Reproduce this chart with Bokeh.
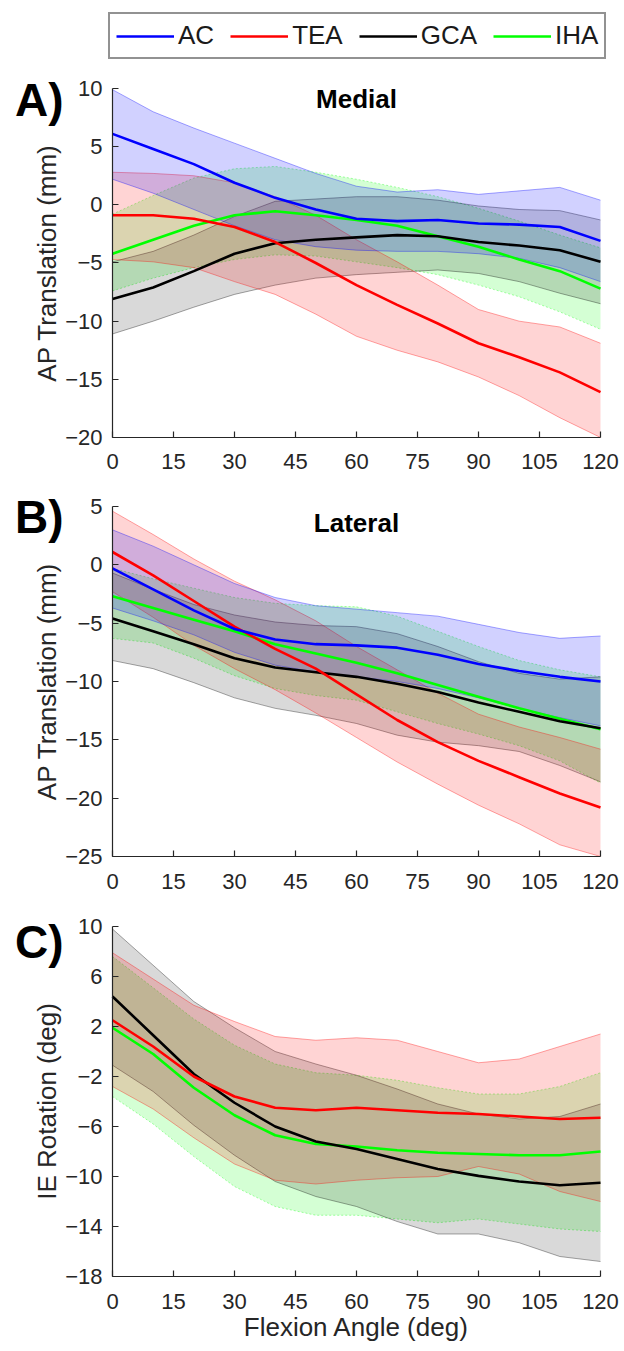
from bokeh.plotting import figure
from bokeh.models import Range1d, FixedTicker, Legend, LegendItem, Label, ColumnDataSource
from bokeh.layouts import column
from bokeh.embed import file_html
from bokeh.resources import INLINE

# ---------------- data ----------------
flexion = [0, 10, 20, 30, 40, 50, 60, 70, 80, 90, 100, 110, 120]
x_ticks = [0, 15, 30, 45, 60, 75, 90, 105, 120]

# Panel A - Medial AP translation (mm)
AC_A_mean = [6.1, 4.8, 3.5, 1.9, 0.6, -0.4, -1.2, -1.4, -1.3, -1.6, -1.7, -1.9, -3.1]
AC_A_up = [9.9, 8.0, 6.6, 5.3, 4.0, 2.7, 1.6, 1.1, 1.3, 0.9, 1.2, 1.5, 0.4]
AC_A_lo = [2.2, 1.0, -0.4, -1.8, -3.0, -3.6, -3.9, -4.0, -4.0, -4.2, -4.6, -5.4, -6.6]
TEA_A_mean = [-0.9, -0.9, -1.2, -1.9, -3.2, -5.0, -6.9, -8.6, -10.2, -11.9, -13.1, -14.4, -16.1]
TEA_A_up = [2.8, 2.7, 2.5, 1.9, 0.7, -0.9, -3.0, -4.9, -6.9, -9.0, -10.0, -10.5, -11.9]
TEA_A_lo = [-4.7, -4.9, -5.4, -6.6, -7.7, -9.4, -11.3, -12.5, -13.5, -14.8, -16.4, -18.3, -20.0]
GCA_A_mean = [-8.1, -7.1, -5.7, -4.2, -3.3, -3.0, -2.8, -2.6, -2.7, -3.2, -3.5, -3.9, -4.9]
GCA_A_up = [-4.9, -4.0, -2.6, -1.0, 0.3, 0.5, 0.7, 0.7, 0.4, -0.1, -0.4, -0.5, -1.3]
GCA_A_lo = [-11.1, -10.0, -8.8, -7.7, -6.9, -6.3, -6.0, -5.8, -5.6, -5.9, -6.6, -7.6, -8.5]
IHA_A_mean = [-4.2, -3.0, -1.8, -0.9, -0.55, -0.9, -1.3, -1.8, -2.7, -3.6, -4.7, -5.7, -7.2]
IHA_A_up = [-0.8, 0.8, 2.3, 3.1, 3.3, 2.8, 2.2, 1.5, 0.7, -0.3, -1.4, -2.6, -3.7]
IHA_A_lo = [-7.4, -6.3, -5.4, -4.7, -4.3, -4.4, -4.9, -5.4, -6.0, -6.9, -7.9, -9.2, -10.7]

# Panel B - Lateral AP translation (mm)
AC_B_mean = [-0.3, -2.1, -3.9, -5.5, -6.4, -6.8, -6.9, -7.1, -7.7, -8.5, -9.1, -9.6, -10.0]
AC_B_up = [3.0, 1.6, 0.0, -1.6, -2.8, -3.5, -3.8, -4.1, -4.4, -5.1, -5.8, -6.3, -6.1]
AC_B_lo = [-3.7, -4.8, -6.0, -7.5, -8.6, -9.2, -9.6, -10.0, -10.6, -11.4, -12.3, -13.1, -13.8]
TEA_B_mean = [1.1, -0.9, -3.1, -5.3, -7.2, -8.9, -11.1, -13.3, -15.2, -16.8, -18.2, -19.6, -20.8]
TEA_B_up = [4.6, 2.6, 0.5, -1.4, -3.0, -4.8, -7.0, -9.0, -11.0, -12.8, -13.9, -14.8, -15.8]
TEA_B_lo = [-2.3, -4.5, -6.9, -8.9, -10.7, -12.7, -14.8, -16.9, -18.8, -20.6, -22.2, -24.0, -25.0]
GCA_B_mean = [-4.6, -5.7, -6.8, -8.0, -8.8, -9.2, -9.6, -10.2, -10.9, -11.8, -12.6, -13.4, -14.0]
GCA_B_up = [-0.7, -2.1, -3.4, -4.3, -4.9, -5.2, -5.3, -5.9, -7.0, -8.3, -9.3, -9.8, -9.6]
GCA_B_lo = [-8.2, -8.9, -10.1, -11.4, -12.3, -12.9, -13.6, -14.6, -15.2, -15.5, -16.0, -17.2, -18.6]
IHA_B_mean = [-2.7, -3.7, -4.7, -5.7, -6.8, -7.6, -8.4, -9.3, -10.3, -11.3, -12.3, -13.2, -14.1]
IHA_B_up = [-0.3, -1.2, -2.0, -2.8, -3.3, -3.5, -3.6, -4.4, -5.7, -7.0, -8.2, -9.0, -9.6]
IHA_B_lo = [-6.3, -6.7, -8.0, -9.5, -10.6, -11.2, -11.6, -12.6, -13.6, -14.5, -15.5, -16.8, -18.7]

# Panel C - IE rotation (deg)
TEA_C_mean = [2.5, 0.4, -2.0, -3.6, -4.5, -4.7, -4.5, -4.7, -4.9, -5.0, -5.2, -5.4, -5.3]
TEA_C_up = [7.9, 5.8, 3.7, 2.4, 1.2, 0.9, 1.1, 0.9, 0.0, -0.9, -0.6, 0.4, 1.4]
TEA_C_lo = [-2.8, -4.6, -6.9, -9.0, -10.3, -10.6, -10.3, -10.1, -10.0, -9.2, -9.8, -11.2, -12.0]
GCA_C_mean = [4.4, 1.3, -1.8, -4.1, -6.0, -7.2, -7.8, -8.6, -9.4, -9.95, -10.4, -10.7, -10.5]
GCA_C_up = [9.8, 6.9, 4.0, 1.9, 0.0, -1.0, -1.9, -3.0, -4.2, -5.0, -5.4, -5.2, -4.2]
GCA_C_lo = [-1.1, -3.2, -5.9, -8.3, -10.4, -11.6, -12.4, -13.6, -14.6, -14.6, -15.3, -16.4, -16.8]
IHA_C_mean = [1.9, -0.2, -2.9, -5.1, -6.7, -7.4, -7.6, -7.9, -8.1, -8.2, -8.3, -8.3, -8.0]
IHA_C_up = [7.6, 5.1, 2.6, 0.5, -1.0, -1.7, -1.9, -2.3, -2.9, -3.4, -3.4, -2.8, -1.7]
IHA_C_lo = [-3.6, -5.8, -8.4, -10.8, -12.4, -13.1, -13.1, -13.4, -13.7, -13.4, -13.8, -14.2, -14.4]

methods = ["AC", "TEA", "GCA", "IHA"]
colors = {"AC": "#0000ff", "TEA": "#ff0000", "GCA": "#000000", "IHA": "#00ff00"}
band_alpha = {"AC": 0.18, "TEA": 0.17, "GCA": 0.15, "IHA": 0.17}

FONT = "Liberation Sans"
AXIS_COLOR = "#262626"
X_LEFT = -27.54    # frame extends left of x=0 (room for letters and y-axis labels)
X_RIGHT = 124.92   # and a little right of 120 (room for the last tick label)


def make_panel(series, y_lo, y_hi, y_bottom, y_top, y_ticks, ylabel, letter, letter_y,
               title, title_y, frame_h, xlabel=None):
    p = figure(frame_width=620, frame_height=frame_h,
               x_range=Range1d(X_LEFT, X_RIGHT), y_range=Range1d(y_bottom, y_top),
               output_backend="svg", toolbar_location=None,
               min_border_left=0, min_border_right=0,
               min_border_top=0, min_border_bottom=0)
    p.outline_line_color = None
    p.xgrid.visible = False
    p.ygrid.visible = False
    p.background_fill_color = "white"
    p.border_fill_color = "white"

    # bands (drawn in reverse legend order)
    for m in reversed(methods):
        if m not in series:
            continue
        mean, up, lo = series[m]
        src = ColumnDataSource(dict(x=flexion, mean=mean, up=up, lo=lo))
        p.varea(x="x", y1="lo", y2="up", source=src,
                fill_color=colors[m], fill_alpha=band_alpha[m])
        dash = "2 2" if m == "IHA" else "solid"
        for col in ("up", "lo"):
            p.line(x="x", y=col, source=src, line_color=colors[m],
                   line_alpha=0.35, line_width=1, line_dash=dash)
    lines = {}
    for m in reversed(methods):
        if m not in series:
            continue
        mean, up, lo = series[m]
        src = ColumnDataSource(dict(x=flexion, mean=mean))
        lines[m] = p.line(x="x", y="mean", source=src, line_color=colors[m],
                          line_width=2.6)

    for ax in (p.xaxis, p.yaxis):
        ax.axis_line_color = AXIS_COLOR
        ax.axis_line_width = 1.2
        ax.major_tick_line_color = AXIS_COLOR
        ax.major_tick_line_width = 1.2
        ax.major_tick_in = 6
        ax.major_tick_out = 0
        ax.minor_tick_line_color = None
        ax.major_label_text_font = FONT
        ax.major_label_text_font_size = "22px"
        ax.major_label_text_color = "#262626"
        ax.axis_label_text_font = FONT
        ax.axis_label_text_font_size = "26px"
        ax.axis_label_text_font_style = "normal"
        ax.axis_label_text_color = "#262626"
    p.xaxis.ticker = FixedTicker(ticks=x_ticks)
    p.xaxis.bounds = (0, 120)
    p.xaxis.fixed_location = y_lo
    p.yaxis.ticker = FixedTicker(ticks=y_ticks)
    p.yaxis.bounds = (y_lo, y_hi)
    p.yaxis.fixed_location = 0
    p.xaxis.major_label_standoff = 17
    p.yaxis.major_label_standoff = 10
    p.yaxis.axis_label = ylabel
    p.yaxis.axis_label_standoff = 0
    if xlabel:
        p.xaxis.axis_label = xlabel
        p.xaxis.axis_label_standoff = 0

    p.add_layout(Label(x=-18, y=letter_y, text=letter, text_font=FONT,
                       text_font_size="46px", text_font_style="bold",
                       text_align="center", text_baseline="middle",
                       text_color="black"))
    if title:
        p.add_layout(Label(x=60, y=title_y, text=title, text_font=FONT,
                           text_font_size="26px", text_font_style="bold",
                           text_align="center", text_baseline="middle",
                           text_color="black"))
    return p, lines


pA, linesA = make_panel(
    {"AC": (AC_A_mean, AC_A_up, AC_A_lo), "TEA": (TEA_A_mean, TEA_A_up, TEA_A_lo),
     "GCA": (GCA_A_mean, GCA_A_up, GCA_A_lo), "IHA": (IHA_A_mean, IHA_A_up, IHA_A_lo)},
    -20, 10, -24.127, 17.565, [-20, -15, -10, -5, 0, 5, 10], "AP Translation (mm)",
    "A)", 8.97, "Medial", 9.1, 485)

pB, _ = make_panel(
    {"AC": (AC_B_mean, AC_B_up, AC_B_lo), "TEA": (TEA_B_mean, TEA_B_up, TEA_B_lo),
     "GCA": (GCA_B_mean, GCA_B_up, GCA_B_lo), "IHA": (IHA_B_mean, IHA_B_up, IHA_B_lo)},
    -25, 5, -29.114, 6.8, [-25, -20, -15, -10, -5, 0, 5], "AP Translation (mm)",
    "B)", 4.1, "Lateral", 3.55, 419)

pC, _ = make_panel(
    {"TEA": (TEA_C_mean, TEA_C_up, TEA_C_lo),
     "GCA": (GCA_C_mean, GCA_C_up, GCA_C_lo), "IHA": (IHA_C_mean, IHA_C_up, IHA_C_lo)},
    -18, 10, -23.84, 11.76, [-18, -14, -10, -6, -2, 2, 6, 10], "IE Rotation (deg)",
    "C)", 8.8, None, None, 445, xlabel="Flexion Angle (deg)")

legend = Legend(items=[LegendItem(label=m, renderers=[linesA[m]]) for m in methods],
                orientation="horizontal", location=(108, 426),
                glyph_width=58, glyph_height=20, label_standoff=4, spacing=16,
                padding=6, margin=0,
                label_text_font=FONT, label_text_font_size="26px",
                label_text_color="#1a1a1a",
                border_line_color="#262626", border_line_width=2,
                background_fill_color="white", background_fill_alpha=1.0)
pA.add_layout(legend, "center")

layout = column(pA, pB, pC, spacing=0)

open("out.html", "w").write(file_html(layout, INLINE))
